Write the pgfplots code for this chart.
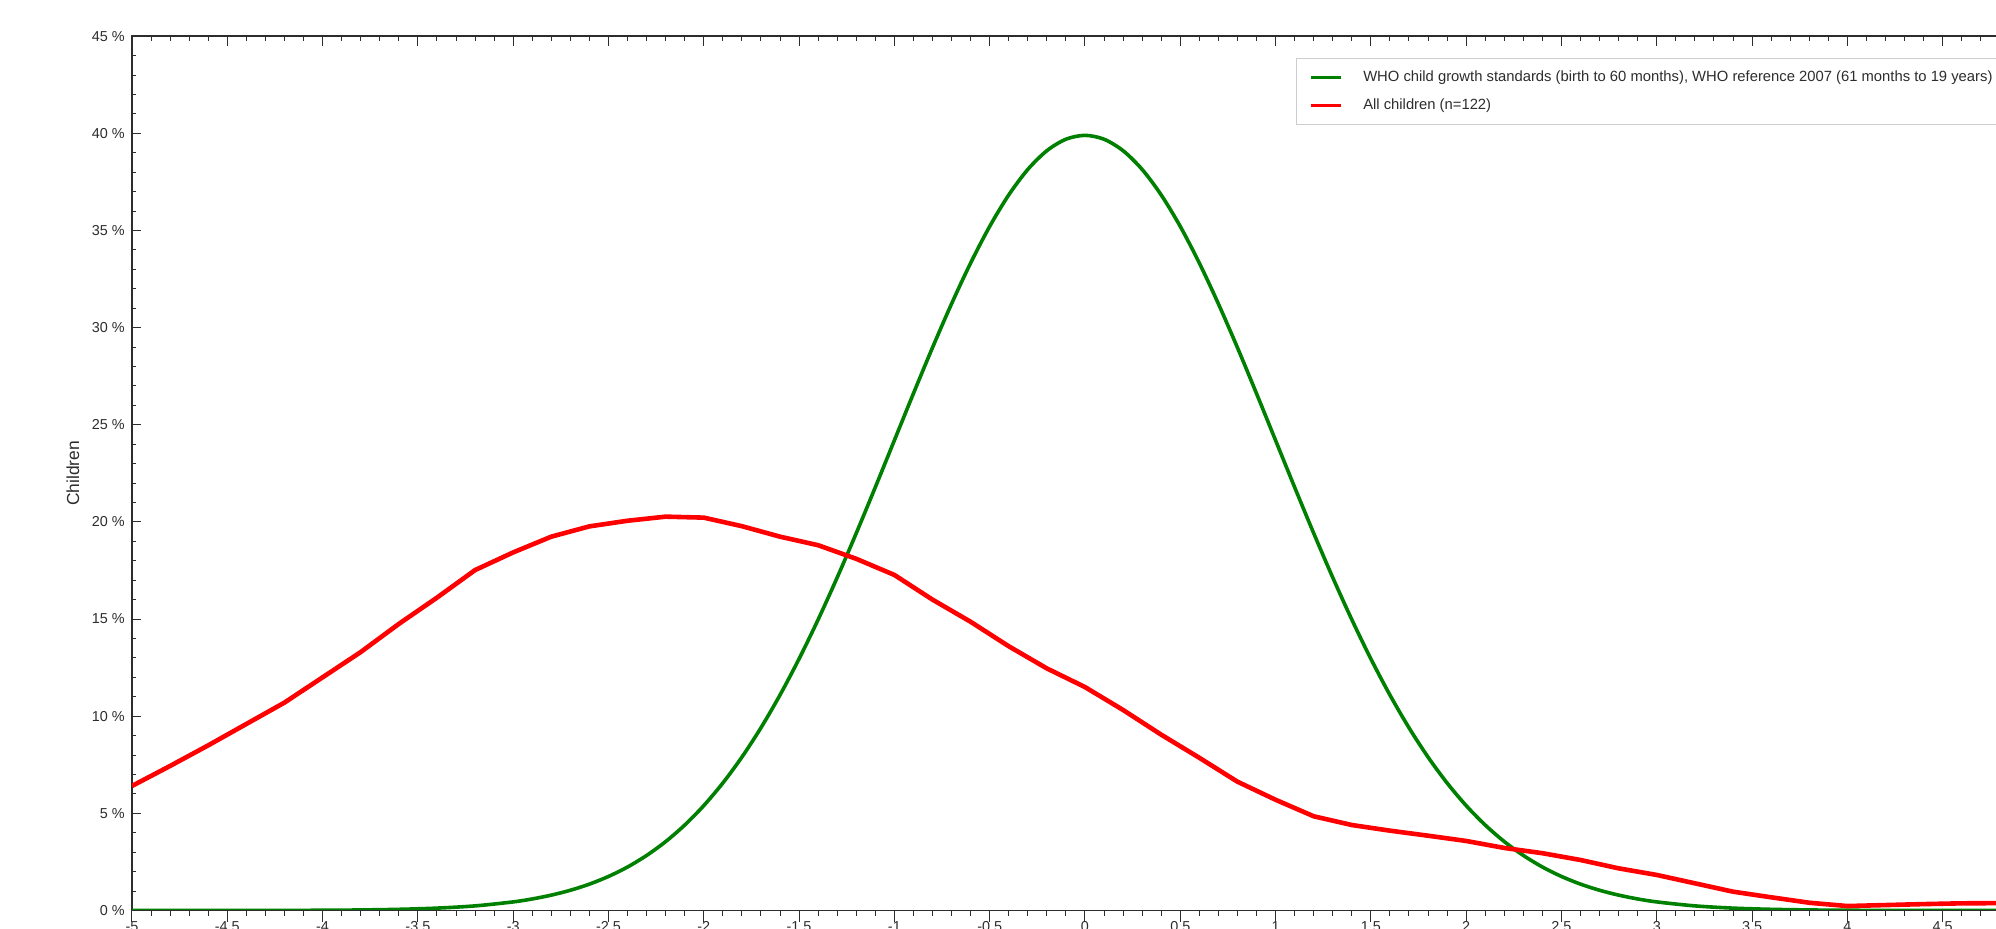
\documentclass[border=0pt]{standalone}
\usepackage{pgfplots}
\pgfplotsset{compat=1.18}
\usepackage{fontspec}
\setmainfont{Liberation Sans}
\definecolor{whogreen}{RGB}{0,128,0}
\definecolor{allred}{RGB}{255,0,0}
\definecolor{axgray}{RGB}{45,45,45}
\definecolor{leggray}{RGB}{205,205,205}
\newcommand{\lblfont}{\fontsize{7.2}{8.6}\selectfont}
\newcommand{\legfont}{\fontsize{7.4}{8.9}\selectfont}
\newcommand{\ylabfont}{\fontsize{8.7}{10.4}\selectfont}
\begin{document}
\begin{tikzpicture}
\begin{axis}[
  name=main,
  scale only axis, width=953pt, height=437.2pt,
  xmin=-5, xmax=5, ymin=0, ymax=45,
  axis line style={axgray, line width=0.85pt},
  tick style={axgray, line width=0.5pt},
  tick align=inside,
  xtick pos=right,
  ytick pos=left,
  xtick={-5,-4.5,...,5}, minor x tick num=4,
  xticklabels={},
  ytick={0,5,...,45}, minor y tick num=4,
  yticklabels={0 \%,5 \%,10 \%,15 \%,20 \%,25 \%,30 \%,35 \%,40 \%,45 \%},
  major tick length=4.75pt, minor tick length=2.2pt,
  yticklabel style={font=\lblfont, text=axgray, anchor=east, inner sep=0pt, xshift=-3.5pt},
  ylabel={Children},
  ylabel style={font=\ylabfont, text=axgray, at={(axis description cs:-0.031,0.5)}, anchor=center},
  legend style={at={(axis description cs:0.6107,0.9747)}, anchor=north west,
    draw=leggray, line width=0.5pt, fill=white, font=\legfont, text=axgray,
    inner xsep=6.5pt, inner ysep=4.0pt, row sep=2.75pt, column sep=7.5pt,
    nodes={inner xsep=3pt, inner ysep=2pt, text height=5.5pt, text depth=1.6pt}},
  legend cell align=left,
  legend image code/.code={\draw[#1, line width=1.4pt] (0pt,0pt) -- (15pt,0pt);},
]
\coordinate (BL) at (axis cs:-5.6925,-0.90);
\coordinate (TR) at (axis cs:4.780,46.86);
\addplot[whogreen, line width=1.8pt, smooth, line join=round] coordinates {
(-5.0,0.000) (-4.5,0.002) (-4.0,0.013) (-3.8,0.029) (-3.6,0.061) (-3.4,0.123) (-3.2,0.238)
(-3.0,0.443) (-2.9,0.595) (-2.8,0.792) (-2.7,1.042) (-2.6,1.358) (-2.5,1.753) (-2.4,2.239)
(-2.3,2.833) (-2.2,3.547) (-2.1,4.398) (-2.0,5.399) (-1.9,6.562) (-1.8,7.895) (-1.7,9.405)
(-1.6,11.092) (-1.5,12.952) (-1.4,14.973) (-1.3,17.137) (-1.2,19.419) (-1.1,21.785) (-1.0,24.197)
(-0.9,26.609) (-0.8,28.969) (-0.7,31.225) (-0.6,33.322) (-0.5,35.207) (-0.4,36.827) (-0.3,38.139)
(-0.2,39.104) (-0.1,39.695) (0.0,39.894) (0.1,39.695) (0.2,39.104) (0.3,38.139) (0.4,36.827)
(0.5,35.207) (0.6,33.322) (0.7,31.225) (0.8,28.969) (0.9,26.609) (1.0,24.197) (1.1,21.785)
(1.2,19.419) (1.3,17.137) (1.4,14.973) (1.5,12.952) (1.6,11.092) (1.7,9.405) (1.8,7.895)
(1.9,6.562) (2.0,5.399) (2.1,4.398) (2.2,3.547) (2.3,2.833) (2.4,2.239) (2.5,1.753)
(2.6,1.358) (2.7,1.042) (2.8,0.792) (2.9,0.595) (3.0,0.443) (3.2,0.238) (3.4,0.123)
(3.6,0.061) (3.8,0.029) (4.0,0.013) (4.5,0.002) (5.0,0.000)
};
\addlegendentry{WHO child growth standards (birth to 60 months), WHO reference 2007 (61 months to 19 years)}
\addplot[allred, line width=2.3pt, line join=round] coordinates {
(-5.0,6.41) (-4.8,7.44) (-4.6,8.50) (-4.4,9.60) (-4.2,10.70) (-4.0,12.00) (-3.8,13.30)
(-3.6,14.75) (-3.4,16.10) (-3.2,17.52) (-3.0,18.43) (-2.8,19.24) (-2.6,19.77) (-2.4,20.06)
(-2.2,20.27) (-2.0,20.22) (-1.8,19.78) (-1.6,19.24) (-1.4,18.80) (-1.2,18.10) (-1.0,17.27)
(-0.8,16.00) (-0.6,14.86) (-0.4,13.60) (-0.2,12.46) (0.0,11.50) (0.2,10.32) (0.4,9.05)
(0.6,7.86) (0.8,6.63) (1.0,5.70) (1.2,4.85) (1.4,4.40) (1.6,4.11) (1.8,3.85) (2.0,3.58)
(2.2,3.22) (2.4,2.95) (2.6,2.60) (2.8,2.17) (3.0,1.83) (3.2,1.40) (3.4,0.97) (3.6,0.68)
(3.8,0.40) (4.0,0.23) (4.2,0.28) (4.4,0.33) (4.6,0.37) (4.8,0.38) (5.0,0.38)
};
\addlegendentry{All children (n=122)}
\end{axis}
\begin{axis}[
  scale only axis, width=953pt, height=437.2pt,
  xmin=-5, xmax=5, ymin=0, ymax=45,
  hide y axis,
  axis x line*=bottom,
  axis line style={axgray, line width=0.85pt},
  tick style={axgray, line width=0.5pt},
  tick align=outside,
  xtick={-5,-4.5,...,5}, minor x tick num=4,
  xticklabels={-5,-4.5,-4,-3.5,-3,-2.5,-2,-1.5,-1,-0.5,0,0.5,1,1.5,2,2.5,3,3.5,4,4.5,5},
  major tick length=5.5pt, minor tick length=2.5pt,
  xticklabel style={font=\lblfont, text=axgray, anchor=north, inner sep=0pt},
]
\end{axis}
\pgfresetboundingbox
\path[use as bounding box] (BL) rectangle (TR);
\end{tikzpicture}
\end{document}
